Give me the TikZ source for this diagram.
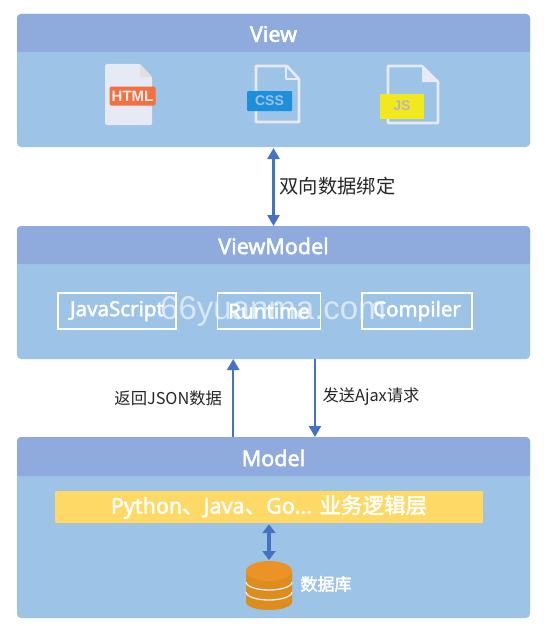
\documentclass[tikz,border=0pt]{standalone}
\usepackage{fontspec}
\setmainfont[FakeBold=2.2]{Noto Sans}
\newfontfamily\cjk{Noto Sans CJK SC}
\newfontfamily\cjkm[FakeBold=2.2]{Noto Sans CJK SC}
\newfontfamily\wm{Liberation Sans}
\usetikzlibrary{arrows.meta}
\definecolor{bodyc}{HTML}{9DC3E6}
\definecolor{headc}{HTML}{8FAADC}
\definecolor{arrowc}{HTML}{4472C4}
\definecolor{pagec}{HTML}{E6EAF4}
\definecolor{dbc}{HTML}{DE8C1C}
\definecolor{dbtop}{HTML}{EB9326}
\definecolor{htmlc}{HTML}{F4703C}
\definecolor{cssc}{HTML}{1E8FDC}
\definecolor{jsc}{HTML}{F2E81E}
\definecolor{barc}{HTML}{FFD966}
\tikzset{
 x=1pt,y=-1pt,
 panelbody/.style={fill=bodyc,rounded corners=4pt,draw=none},
 paneltitle/.style={text=white,font=\fontsize{21.5}{25}\selectfont},
 subbox/.style={draw=white,line width=1.5pt,minimum height=36pt,inner sep=0pt,text=white,font=\fontsize{20.5}{24}\selectfont,anchor=center},
 flow/.style={draw=arrowc,line width=2.5pt,-{Triangle[length=11pt,width=12pt]}},
 flowboth/.style={draw=arrowc,line width=2.5pt,{Triangle[length=11pt,width=12pt]}-{Triangle[length=11pt,width=12pt]}},
 lab/.style={text=black!85,font=\fontsize{16.3}{20}\selectfont\cjk},
 pageoutline/.style={draw=pagec,line width=2.6pt,fill=none,line join=round},
}
\newcommand{\headband}[2]{\fill[headc,rounded corners=4pt] (17,#1) -- (17,#2) -- (530,#2) -- (530,#1) -- cycle;
 \fill[headc] (17,#2-6) rectangle (530,#2);}
\begin{document}
\begin{tikzpicture}
\useasboundingbox (0,0) rectangle (547,626);
\fill[white] (0,0) rectangle (547,626);
% panels
\fill[panelbody] (17,14) rectangle (530,147);
\headband{14}{52}
\fill[panelbody] (17,226) rectangle (530,359);
\headband{226}{264}
\fill[panelbody] (17,437) rectangle (530,618);
\headband{437}{476}
\node[paneltitle] (viewt) at (273.5,34) {View};
\node[paneltitle] (vmt) at (273.5,246) {ViewModel};
\node[paneltitle] (modelt) at (273.5,458) {Model};
% anchors for connectors
\coordinate (viewb) at (273.5,147);
\coordinate (vmtop) at (273.5,226);
\coordinate (vmbl) at (233.2,359);
\coordinate (vmbr) at (315,359);
\coordinate (modtl) at (233.2,437);
\coordinate (modtr) at (315,437);
% HTML icon
\fill[pagec,rounded corners=1.5pt] (105,64) -- (140,64) -- (152,77) -- (152,125) -- (105,125) -- cycle;
\fill[black!12] (140,64) -- (152,77) -- (140,77) -- cycle;
\node[fill=htmlc,rounded corners=1.5pt,minimum width=46pt,minimum height=19pt,inner sep=0pt,text=pagec,font=\fontsize{15}{17}\selectfont\bfseries\wm] (html) at (132.5,96) {HTML};
% CSS icon
\draw[pageoutline] (256,66) -- (287,66) -- (299,79) -- (299,122) -- (256,122) -- cycle;
\draw[pageoutline,line width=1.6pt] (286,66) -- (286,79) -- (299,79);
\node[fill=cssc,rounded corners=1pt,minimum width=45pt,minimum height=20pt,inner sep=0pt,text=bodyc,font=\fontsize{14}{16}\selectfont\bfseries\wm] (css) at (269.5,101) {CSS};
% JS icon
\draw[pageoutline] (388,66) -- (422,66) -- (438,82) -- (438,123) -- (388,123) -- cycle;
\fill[pagec] (422,66) -- (438,82) -- (422,82) -- cycle;
\node[fill=jsc,minimum width=44pt,minimum height=25pt,inner sep=0pt,text=black!28,font=\fontsize{14}{16}\selectfont\bfseries\wm] (js) at (402,106) {JS};
% sub boxes
\node[subbox,minimum width=118pt] (jsb) at (117,311) {JavaScript};
\node[subbox,minimum width=103pt] (rt) at (269,311) {Runtime};
\node[subbox,minimum width=110pt] (cp) at (417,311) {Compiler};
% connectors
\draw[flowboth] (viewb) ++(0,1) -- (vmtop);
\node[lab,anchor=west,font=\fontsize{19.3}{23}\selectfont\cjk] (bind) at (276,186) {双向数据绑定};
\draw[flow] (modtl) -- (vmbl);
\draw[flow] (vmbr) -- (modtr);
\node[lab,anchor=east] (ret) at (225.5,398) {返回JSON数据};
\node[lab,anchor=west] (send) at (319,397) {发送Ajax请求};
% yellow bar
\node[minimum width=428pt,minimum height=32pt,inner sep=0pt,rounded corners=1pt,fill=barc,text=white,font=\fontsize{21.5}{25}\selectfont] (biz) at (269,507) {Python{\cjkm 、}Java{\cjkm 、}Go... {\cjkm 业务逻辑层}};
% database
\fill[dbc] (246,571) -- (246,602) arc[start angle=180,end angle=0,x radius=23pt,y radius=-8pt] -- (292,571) -- cycle;
\fill[dbtop] (269,571) ellipse[x radius=23pt,y radius=10pt];
\draw[bodyc!30!white,line width=1.3pt] (246,582) arc[start angle=180,end angle=0,x radius=23pt,y radius=-8pt];
\draw[bodyc!30!white,line width=1.3pt] (246,592) arc[start angle=180,end angle=0,x radius=23pt,y radius=-8pt];
\coordinate (dbt) at (269,560);
\draw[draw=arrowc,line width=3.2pt,{Triangle[length=9pt,width=13pt]}-{Triangle[length=9pt,width=13pt]}] (biz.south -| dbt) ++(0,1) -- (dbt);
\node[text=white,font=\fontsize{17}{20}\selectfont\cjkm,anchor=west] (db) at (297,584) {数据库};
% watermark
\node[text=white,opacity=.6,font=\fontsize{33}{36}\selectfont\wm,anchor=center] (mark) at (273,311) {66yuanma.com};
\end{tikzpicture}
\end{document}
